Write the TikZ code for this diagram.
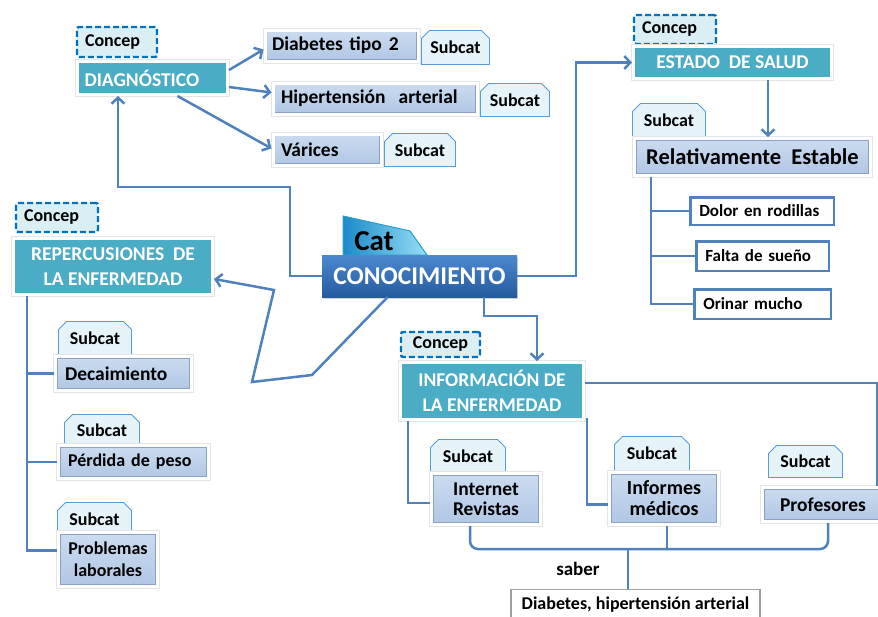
\documentclass[tikz,border=0pt]{standalone}
\usepackage{fontspec}
\setmainfont{Carlito}
\usetikzlibrary{arrows.meta,shapes.misc,shadows,calc}
\definecolor{lnblue}{RGB}{79,129,189}
\definecolor{cpborder}{RGB}{0,112,192}
\definecolor{cpfill}{RGB}{218,238,243}
\definecolor{tealc}{RGB}{75,172,198}
\definecolor{subtop}{RGB}{204,220,240}
\definecolor{subbot}{RGB}{176,198,228}
\definecolor{subedge}{RGB}{140,162,196}
\definecolor{tabfill}{RGB}{230,243,249}
\definecolor{tabline}{RGB}{91,155,213}
\definecolor{ktop}{RGB}{76,136,208}
\definecolor{kbot}{RGB}{38,90,158}
\definecolor{catl}{RGB}{28,138,200}
\definecolor{catr}{RGB}{150,222,246}
\definecolor{catline}{RGB}{40,160,210}
\definecolor{grayline}{RGB}{160,160,160}
\newcommand\fzA{\fontsize{18}{20}\selectfont\bfseries}
\newcommand\fzL{\fontsize{17}{20}\selectfont\bfseries}
\newcommand\fzP{\fontsize{18}{20}\selectfont\bfseries}
\newcommand\fzT{\fontsize{19.5}{25}\selectfont\bfseries}
\newcommand\fzS{\fontsize{19.5}{21}\selectfont\bfseries}
\newcommand\fzR{\fontsize{22.5}{24}\selectfont\bfseries}
\newcommand\fzK{\fontsize{25.5}{27}\selectfont\bfseries}
\newcommand\fzC{\fontsize{29}{30}\selectfont\bfseries}
\begin{document}
\begin{tikzpicture}[x=1pt,y=-1pt,
  frame/.style={preaction={draw=black!10, line width=5pt}, draw=white, line width=3pt,
    drop shadow={opacity=0.22,shadow xshift=1pt,shadow yshift=-1.5pt}},
  concep/.style={draw=cpborder, fill=cpfill, line width=2.4pt, dash pattern=on 6pt off 3pt,
    rounded corners=2pt, inner sep=0pt, font=\fzA},
  teal/.style={frame, fill=tealc, text=white, font=\fzT, align=center, inner sep=0pt},
  subbox/.style={frame, top color=subtop, bottom color=subbot,
    path picture={\draw[subedge, line width=1pt]
      ([shift={(1.8pt,1.8pt)}]path picture bounding box.south west) rectangle
      ([shift={(-1.8pt,-1.8pt)}]path picture bounding box.north east);},
    font=\fzS, inner sep=0pt},
  tab/.style={chamfered rectangle, chamfered rectangle corners={north west,north east},
    chamfered rectangle xsep=4pt, chamfered rectangle ysep=4pt,
    fill=tabfill, draw=tabline, line width=0.8pt, font=\fzA, inner sep=0pt},
  leaf/.style={draw=lnblue, fill=white, line width=2.5pt, font=\fzL, inner sep=0pt},
  conn/.style={draw=lnblue, line width=2.5pt},
  arr/.style={conn, -{Straight Barb[length=6pt,width=13pt]}},
]
\useasboundingbox (0,0) rectangle (878,616);
\clip (0,0) rectangle (878,616);

% ---------- DIAGNOSTICO ----------
\node[concep, minimum height=30pt, text width=64pt, inner xsep=8pt, align=left] (cpdiag) at (117,42) {Concep};
\node[teal, minimum height=33pt, text width=136pt, inner xsep=7pt, align=left] (diag) at (152.5,78) {DIAGNÓSTICO};

\node[tab, minimum width=68pt, minimum height=34pt] (tdia) at (455.5,47.5) {Subcat};
\node[subbox, minimum height=31pt, text width=139pt, inner xsep=7pt, align=left] (dia2) at (341.5,45.5) {Diabetes tipo\hspace{7pt}2};
\node[tab, minimum width=69pt, minimum height=33pt] (thip) at (515,100) {Subcat};
\node[subbox, minimum height=31pt, text width=188pt, inner xsep=8pt, align=left] (hip) at (375,98.5) {Hipertensión\ \ arterial};
\node[tab, minimum width=71pt, minimum height=33pt] (tvar) at (420,150) {Subcat};
\node[subbox, minimum height=31pt, text width=92pt, inner xsep=8pt, align=left] (var) at (327,149.5) {Várices};

% ---------- ESTADO DE SALUD ----------
\node[concep, minimum height=29pt, text width=66pt, inner xsep=8pt, align=left] (cpest) at (675,29.5) {Concep};
\node[teal, minimum width=198pt, minimum height=32pt] (est) at (732.5,62.5) {ESTADO\ \ DE SALUD};
\node[tab, minimum width=73pt, minimum height=33pt] (trel) at (669,120) {Subcat};
\node[subbox, minimum width=236pt, minimum height=37pt, font=\fzR] (rel) at (752.5,157) {Relativamente\ \ Estable};

\node[leaf, minimum height=27.5pt, text width=125.5pt, inner xsep=9pt, align=left] (dolor) at (762,211) {Dolor en rodillas};
\node[leaf, minimum height=29.5pt, text width=114.5pt, inner xsep=9pt, align=left] (falta) at (762.5,256) {Falta de sueño};
\node[leaf, minimum height=29.5pt, text width=118.5pt, inner xsep=9pt, align=left] (orinar) at (762.5,304) {Orinar mucho};

% ---------- CONOCIMIENTO ----------
\fill[left color=catl, right color=catr, draw=catline, line width=1pt]
  (343,216) -- (410,231) -- (427,255) -- (343,255) -- cycle;
\node[font=\fzC, inner sep=0pt] (cat) at (374,241) {Cat};
\node[top color=ktop, bottom color=kbot, minimum width=195pt, minimum height=42pt,
  drop shadow={opacity=0.35,shadow xshift=1pt,shadow yshift=-2pt},
  text=white, font=\fzK, inner sep=0pt] (conoc) at (419.5,276) {CONOCIMIENTO};

% ---------- REPERCUSIONES ----------
\node[concep, minimum height=29pt, text width=66pt, inner xsep=8pt, align=left] (cprep) at (57,217.5) {Concep};
\node[teal, minimum width=199pt, minimum height=56pt] (rep) at (113,266.5) {REPERCUSIONES\ \ DE\\LA ENFERMEDAD};
\node[tab, minimum width=73pt, minimum height=33pt] (tdec) at (95,338) {Subcat};
\node[subbox, minimum height=34pt, text width=117pt, inner xsep=9.5pt, align=left] (dec) at (123.5,373.5) {Decaimiento};
\node[tab, minimum width=75pt, minimum height=32pt] (tper) at (102,430.5) {Subcat};
\node[subbox, minimum height=33pt, text width=131pt, inner xsep=9.5pt, align=left, font=\fzP] (per) at (133.5,462) {Pérdida de peso};
\node[tab, minimum width=74pt, minimum height=33pt] (tprob) at (94.5,519) {Subcat};
\node[subbox, minimum width=99pt, minimum height=54pt, align=center, font=\fontsize{18}{22}\selectfont\bfseries] (prob) at (108,559.5) {Problemas\\laborales};

% ---------- INFORMACION ----------
\node[concep, minimum width=79pt, minimum height=25pt] (cpinf) at (440.5,344.5) {Concep};
\node[teal, minimum width=183pt, minimum height=57pt] (info) at (492,391) {INFORMACIÓN DE\\LA ENFERMEDAD};
\node[tab, minimum width=75pt, minimum height=33pt] (tinet) at (468,456) {Subcat};
\node[subbox, minimum width=109pt, minimum height=51pt, align=center, font=\fontsize{19.5}{20}\selectfont\bfseries] (inet) at (486,499) {Internet\\Revistas};
\node[tab, minimum width=75pt, minimum height=34pt] (tinf) at (652,453.5) {Subcat};
\node[subbox, minimum width=109pt, minimum height=52pt, align=center, font=\fontsize{20}{21}\selectfont\bfseries] (inf) at (664,498.5) {Informes\\médicos};
\node[tab, minimum width=74pt, minimum height=32pt] (tprof) at (805.5,461.5) {Subcat};
\node[subbox, minimum width=121pt, minimum height=34pt] (prof) at (823,504.5) {Profesores};

\node[draw=grayline, fill=white, line width=1.2pt, minimum width=249pt, minimum height=31pt,
  font=\fzA, inner sep=0pt] (diab) at (635.5,605) {Diabetes, hipertensión arterial};
\node[font=\fontsize{19}{20}\selectfont\bfseries, inner sep=0pt] (saber) at (578,569) {saber};

% ---------- connectors ----------
\coordinate (k1) at (290,187);
\coordinate (k2) at (576,62.5);
\coordinate (k3) at (537,316);
\coordinate (k4) at (312,375);
\coordinate (k5) at (252,382);
\coordinate (k6) at (274,290);
\coordinate (k7) at (877,383);
\coordinate (bb) at (628,549);

\draw[arr] ([yshift=8pt]diag.east) -- ([yshift=-4pt]dia2.west);
\draw[arr] ([yshift=-9pt]diag.east) -- ([yshift=6pt]hip.west);
\draw[arr] ([xshift=25pt]diag.south) -- ([yshift=1pt]var.west);

\draw[arr] (conoc.west) -| (k1) -| ([xshift=-34.5pt]diag.south);
\draw[arr] (conoc.east) -| (k2) -- (est.west);
\draw[arr] ([xshift=35.5pt]est.south) -- ([xshift=15.5pt]rel.north);
\draw[conn] ([xshift=18pt]rel.south west) |- (dolor.west);
\draw[conn] ([xshift=18pt]rel.south west) |- (falta.west);
\draw[conn] ([xshift=18pt]rel.south west) |- (orinar.west);

\draw[arr] ([xshift=64.5pt]conoc.south) |- (k3) -- ([xshift=45pt]info.north);
\draw[arr] ([xshift=-32pt]conoc.south) -- (k4) -- (k5) -- (k6) -- ([yshift=-12.5pt]rep.east);

\draw[conn] ([xshift=15pt]rep.south west) |- (dec.west);
\draw[conn] ([xshift=15pt]rep.south west) |- (per.west);
\draw[conn] ([xshift=15pt]rep.south west) |- ([yshift=9pt]prob.west);

\draw[conn] ([yshift=8pt]info.east) -- (k7) -- (k7 |- prof.north);
\draw[conn] ([xshift=-84pt]info.south) |- ([yshift=-4pt]inet.west);
\draw[conn] ([xshift=2pt,yshift=3pt]info.south east) |- ([yshift=-6pt]inf.west);

\draw[conn, rounded corners=8pt] ([xshift=-16pt]inet.south) |- (bb) -| ([xshift=5pt]prof.south);
\draw[conn] ([xshift=3pt]inf.south) -- ([xshift=3pt]inf.south |- bb);
\draw[conn] (bb) -- (bb |- diab.north);
\end{tikzpicture}
\end{document}
